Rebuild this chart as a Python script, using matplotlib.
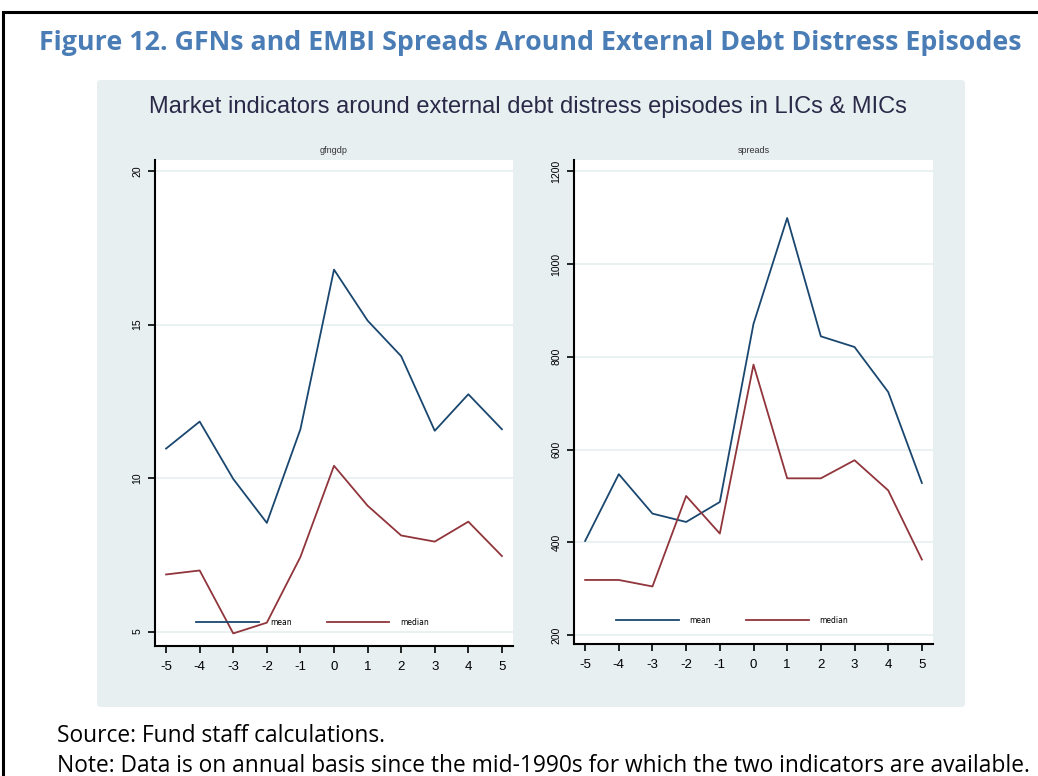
import matplotlib
matplotlib.use("Agg")
import matplotlib.pyplot as plt
from matplotlib.patches import Rectangle, FancyBboxPatch

# event time around distress episode
years = [-5, -4, -3, -2, -1, 0, 1, 2, 3, 4, 5]

# gross financing needs, % of GDP
gfn_mean = [10.96, 11.84, 9.97, 8.54, 11.59, 16.79, 15.13, 13.97, 11.54, 12.73, 11.59]
gfn_median = [6.86, 6.99, 4.94, 5.29, 7.43, 10.40, 9.10, 8.13, 7.93, 8.58, 7.46]

# EMBI spreads, bp
spr_mean = [403, 547, 462, 444, 487, 871, 1099, 844, 821, 724, 528]
spr_median = [319, 319, 305, 500, 419, 783, 538, 538, 577, 512, 363]

gfn_ticks = [5, 10, 15, 20]
spr_ticks = [200, 400, 600, 800, 1000, 1200]

NAVY = '#1a476f'
MAROON = '#90353b'
GRID = '#e6eff1'
PANEL_BG = '#e8eff1'

W, H = 1038, 776
fig = plt.figure(figsize=(W / 100, H / 100), dpi=100)
fig.patch.set_facecolor('white')


def fx(px):
    return px / W


def fy(py):
    return 1 - py / H


# outer frame of the figure box
fig.patches.append(Rectangle((fx(3), -0.1), 1.2, fy(12) + 0.1, transform=fig.transFigure,
                             fill=False, edgecolor='black', linewidth=2.2, zorder=-2))

# stata graph region
fig.patches.append(FancyBboxPatch((fx(97), fy(707)), fx(965) - fx(97), fy(80) - fy(707),
                                  boxstyle='round,pad=0,rounding_size=0.004',
                                  transform=fig.transFigure, facecolor=PANEL_BG,
                                  edgecolor='none', zorder=-1))

fig.text(fx(530), fy(43), 'Figure 12. GFNs and EMBI Spreads Around External Debt Distress Episodes',
         ha='center', va='center', fontsize=19.3, fontweight='bold', color='#4a7db5',
         family='Open Sans')
fig.text(fx(528), fy(107), 'Market indicators around external debt distress episodes in LICs & MICs',
         ha='center', va='center', fontsize=17, color='#2a2a48', family='Liberation Sans')

fig.text(fx(57), fy(736), 'Source: Fund staff calculations.', ha='left', va='center',
         fontsize=16.4, color='black', family='Open Sans')
fig.text(fx(57), fy(766), 'Note: Data is on annual basis since the mid-1990s for which the two indicators are available.',
         ha='left', va='center', fontsize=16.4, color='black', family='Open Sans')


def panel(rect, mean, median, yticks, ylim, title):
    ax = fig.add_axes(rect)
    ax.set_facecolor('white')
    ax.plot(years, mean, color=NAVY, lw=1.3, label='mean')
    ax.plot(years, median, color=MAROON, lw=1.3, label='median')
    ax.set_xlim(-5.33, 5.33)
    ax.set_ylim(*ylim)
    ax.set_xticks(years)
    ax.set_xticklabels([str(y) for y in years], fontsize=9.5, family='Liberation Sans')
    ax.set_yticks(yticks)
    ax.set_yticklabels([str(t) for t in yticks], fontsize=7.5, rotation=90, va='center',
                       family='Liberation Sans')
    ax.tick_params(axis='both', direction='out', length=5, width=1.2, color='black')
    ax.tick_params(axis='x', pad=6)
    ax.tick_params(axis='y', pad=4)
    for t in yticks:
        ax.axhline(t, color=GRID, lw=1.2, zorder=0)
    for s in ['top', 'right']:
        ax.spines[s].set_visible(False)
    for s in ['left', 'bottom']:
        ax.spines[s].set_linewidth(1.5)
        ax.spines[s].set_color('black')
    ax.set_title(title, fontsize=6.5, color='#333333', pad=5, family='Liberation Sans')
    ax.legend(loc='lower center', bbox_to_anchor=(0.44, 0.025), ncol=2, frameon=False,
              fontsize=5.5, handlelength=8.2, columnspacing=4.6, handletextpad=1.4)
    return ax


panel([fx(155), fy(646), fx(513) - fx(155), fy(160) - fy(646)],
      gfn_mean, gfn_median, gfn_ticks, (4.53, 20.36), 'gfngdp')
panel([fx(574), fy(644), fx(933) - fx(574), fy(160) - fy(644)],
      spr_mean, spr_median, spr_ticks, (181, 1224), 'spreads')

fig.savefig('out.png', dpi=100)
